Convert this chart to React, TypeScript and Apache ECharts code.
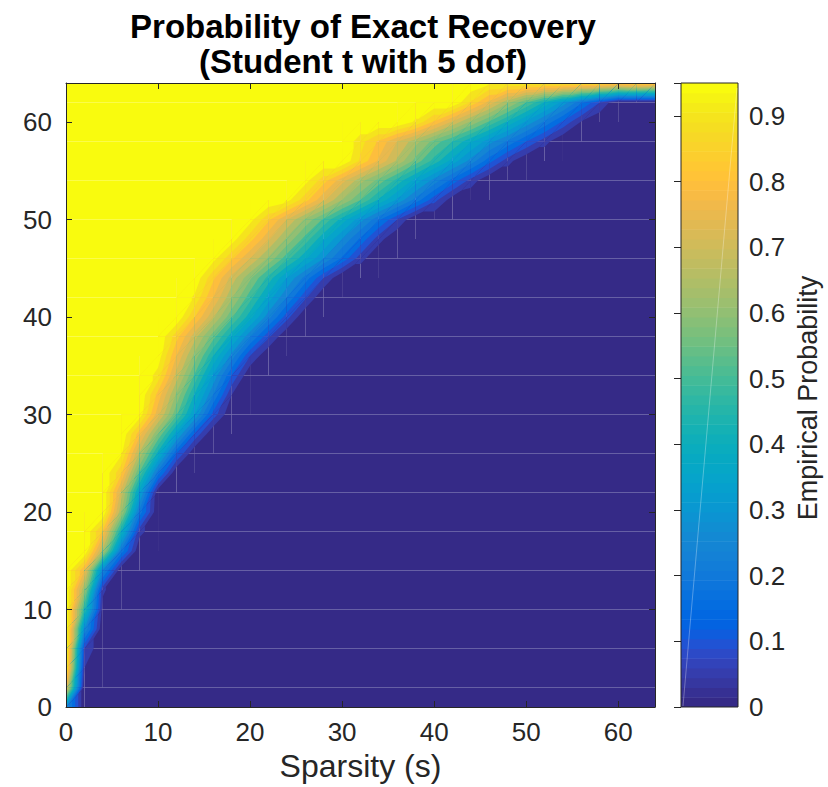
import React, { useEffect, useRef } from "react";
import * as echarts from "echarts";

// ---------------- data ----------------
const sparsityGrid = [0, 2, 4, 6, 8, 10, 12, 14, 16, 18, 20, 22, 24, 26, 28, 30, 32, 34, 36, 38, 40, 42, 44, 46, 48, 50, 52, 54, 56, 58, 60, 62, 64];
const measurementGrid = [0, 2, 4, 6, 8, 10, 12, 14, 16, 18, 20, 22, 24, 26, 28, 30, 32, 34, 36, 38, 40, 42, 44, 46, 48, 50, 52, 54, 56, 58, 60, 62, 64];

// For every row (measurement value): sparsity where the listed values begin.
// Left of it the empirical probability is 1, right of the listed values it is 0.
const transitionStart = [0, 0, 0, 2, 2, 2, 2, 2, 4, 4, 6, 6, 6, 6, 8, 8, 10, 10, 10, 12, 14, 14, 14, 16, 18, 20, 24, 26, 32, 32, 38, 44, 46];
const transitionValues: number[][] = [
  [0.3],
  [0.8],
  [0.97, 0.05],
  [0.1],
  [0.3],
  [0.5, 0.03],
  [0.65, 0.06],
  [0.8, 0.28],
  [0.68, 0.23],
  [0.84, 0.45, 0.07],
  [0.66, 0.23],
  [0.73, 0.37, 0.01],
  [0.86, 0.54, 0.22],
  [0.96, 0.69, 0.43, 0.16],
  [0.82, 0.6, 0.37, 0.14],
  [0.98, 0.77, 0.56, 0.35, 0.13],
  [0.83, 0.64, 0.44, 0.25, 0.05],
  [0.93, 0.73, 0.54, 0.34, 0.15],
  [0.98, 0.8, 0.63, 0.45, 0.28, 0.1],
  [0.87, 0.72, 0.57, 0.42, 0.26, 0.11],
  [0.85, 0.71, 0.56, 0.42, 0.27, 0.12],
  [0.94, 0.8, 0.66, 0.52, 0.38, 0.25, 0.11],
  [0.99, 0.86, 0.73, 0.61, 0.48, 0.35, 0.23, 0.1],
  [0.97, 0.86, 0.75, 0.64, 0.52, 0.41, 0.3, 0.19, 0.07],
  [0.98, 0.87, 0.76, 0.64, 0.53, 0.41, 0.3, 0.19, 0.07],
  [0.97, 0.86, 0.75, 0.64, 0.54, 0.43, 0.32, 0.21, 0.1],
  [0.97, 0.87, 0.76, 0.65, 0.55, 0.44, 0.34, 0.23, 0.12, 0.02],
  [0.97, 0.87, 0.77, 0.67, 0.58, 0.48, 0.38, 0.28, 0.18, 0.08],
  [0.89, 0.79, 0.69, 0.58, 0.48, 0.38, 0.28, 0.17, 0.07],
  [0.92, 0.84, 0.75, 0.67, 0.58, 0.5, 0.41, 0.32, 0.24, 0.15, 0.07],
  [0.94, 0.84, 0.74, 0.64, 0.54, 0.44, 0.34, 0.24, 0.14, 0.045],
  [0.89, 0.78, 0.66, 0.55, 0.44, 0.33, 0.21, 0.1],
  [0.96, 0.95, 0.94, 0.93, 0.93, 0.92, 0.91, 0.88, 0.91, 0.89],
];

const contourLevels = [0, 0.05, 0.1, 0.15, 0.2, 0.25, 0.3, 0.35, 0.4, 0.45, 0.5, 0.55, 0.6, 0.65, 0.7, 0.75, 0.8, 0.85, 0.9, 0.95];
const colorMax = 0.95;
const axisTicks = [0, 10, 20, 30, 40, 50, 60];
const colorbarTicks = [0, 0.1, 0.2, 0.3, 0.4, 0.5, 0.6, 0.7, 0.8, 0.9];

// MATLAB parula colormap (64 entries)
const PARULA: number[][] = [
  [0.2081, 0.1663, 0.5292], [0.2116, 0.1898, 0.5777], [0.2123, 0.2138, 0.627], [0.2081, 0.2386, 0.6771],
  [0.1959, 0.2645, 0.7279], [0.1707, 0.2919, 0.7792], [0.1253, 0.3242, 0.8303], [0.0591, 0.3598, 0.8683],
  [0.0117, 0.3875, 0.882], [0.006, 0.4086, 0.8828], [0.0165, 0.4266, 0.8786], [0.0329, 0.443, 0.872],
  [0.0498, 0.4586, 0.8641], [0.0629, 0.4737, 0.8554], [0.0723, 0.4887, 0.8467], [0.0779, 0.504, 0.8384],
  [0.0793, 0.52, 0.8312], [0.0749, 0.5375, 0.8263], [0.0641, 0.557, 0.824], [0.0488, 0.5772, 0.8228],
  [0.0343, 0.5966, 0.8199], [0.0265, 0.6137, 0.8135], [0.0239, 0.6287, 0.8038], [0.0231, 0.6418, 0.7913],
  [0.0228, 0.6535, 0.7768], [0.0267, 0.6642, 0.7607], [0.0384, 0.6743, 0.7436], [0.059, 0.6838, 0.7254],
  [0.0843, 0.6928, 0.7062], [0.1133, 0.7015, 0.6859], [0.1453, 0.7098, 0.6646], [0.1801, 0.7177, 0.6424],
  [0.2178, 0.725, 0.6193], [0.2586, 0.7317, 0.5954], [0.3022, 0.7376, 0.5712], [0.3482, 0.7424, 0.5473],
  [0.3953, 0.7459, 0.5244], [0.442, 0.7481, 0.5033], [0.4871, 0.7491, 0.484], [0.53, 0.7491, 0.4661],
  [0.5709, 0.7485, 0.4494], [0.6099, 0.7473, 0.4337], [0.6473, 0.7456, 0.4188], [0.6834, 0.7435, 0.4044],
  [0.7184, 0.7411, 0.3905], [0.7525, 0.7384, 0.3768], [0.7858, 0.7356, 0.3633], [0.8185, 0.7327, 0.3498],
  [0.8507, 0.7299, 0.336], [0.8824, 0.7274, 0.3217], [0.9139, 0.7258, 0.3063], [0.945, 0.7261, 0.2886],
  [0.9739, 0.7314, 0.2666], [0.9938, 0.7455, 0.2403], [0.999, 0.7653, 0.2164], [0.9955, 0.7861, 0.1967],
  [0.988, 0.8066, 0.1794], [0.9789, 0.8271, 0.1633], [0.9697, 0.8481, 0.1475], [0.9626, 0.8705, 0.1309],
  [0.9589, 0.8949, 0.1132], [0.9598, 0.9218, 0.0948], [0.9661, 0.9514, 0.0755], [0.9763, 0.9831, 0.0538],
];

const FONT = '"Liberation Sans", Arial, Helvetica, sans-serif';
const TEXT = "#262626";

function rgbOf(i: number): string {
  const c = PARULA[i];
  return `rgb(${Math.round(c[0] * 255)},${Math.round(c[1] * 255)},${Math.round(c[2] * 255)})`;
}
function colorForValue(v: number): string {
  const idx = Math.max(0, Math.min(63, Math.floor((v / colorMax) * 64 + 1e-9)));
  return rgbOf(idx);
}
function bandOf(v: number): number {
  let k = 0;
  for (let i = 0; i < contourLevels.length; i++) if (v >= contourLevels[i] - 1e-12) k = i;
  return k;
}
const bandColors = contourLevels.map((l) => colorForValue(l));

// probability grid [row m][col s]
const probability: number[][] = measurementGrid.map((_, j) => {
  const startIdx = sparsityGrid.indexOf(transitionStart[j]);
  const vals = transitionValues[j];
  return sparsityGrid.map((_, i) => {
    if (i < startIdx) return 1;
    const k = i - startIdx;
    return k < vals.length ? vals[k] : 0;
  });
});

type P3 = [number, number, number];
function clipAbove(poly: P3[], level: number): P3[] {
  const out: P3[] = [];
  for (let i = 0; i < poly.length; i++) {
    const a = poly[i];
    const b = poly[(i + 1) % poly.length];
    const ina = a[2] >= level;
    const inb = b[2] >= level;
    if (ina) out.push(a);
    if (ina !== inb) {
      const t = (level - a[2]) / (b[2] - a[2]);
      out.push([a[0] + t * (b[0] - a[0]), a[1] + t * (b[1] - a[1]), level]);
    }
  }
  return out;
}

type Poly = { pts: number[][]; color: string };
function buildPolygons(): Poly[] {
  const polys: Poly[] = [];
  const S = sparsityGrid;
  const M = measurementGrid;
  const Z = probability;
  for (let j = 0; j < M.length - 1; j++) {
    let run: { band: number; s0: number; s1: number } | null = null;
    const flush = () => {
      if (run) {
        polys.push({
          pts: [[run.s0, M[j]], [run.s1, M[j]], [run.s1, M[j + 1]], [run.s0, M[j + 1]]],
          color: bandColors[run.band],
        });
      }
      run = null;
    };
    for (let i = 0; i < S.length - 1; i++) {
      const a: P3 = [S[i], M[j], Z[j][i]];
      const b: P3 = [S[i + 1], M[j], Z[j][i + 1]];
      const c: P3 = [S[i + 1], M[j + 1], Z[j + 1][i + 1]];
      const d: P3 = [S[i], M[j + 1], Z[j + 1][i]];
      const bands = [a, b, c, d].map((p) => bandOf(p[2]));
      const cellLo = Math.min(...bands);
      if (bands.every((x) => x === bands[0])) {
        if (run && run.band === bands[0] && run.s1 === S[i]) run.s1 = S[i + 1];
        else {
          flush();
          run = { band: bands[0], s0: S[i], s1: S[i + 1] };
        }
        continue;
      }
      flush();
      // base: whole cell in its lowest band, then stacked super-level regions
      polys.push({
        pts: [[S[i], M[j]], [S[i + 1], M[j]], [S[i + 1], M[j + 1]], [S[i], M[j + 1]]],
        color: bandColors[cellLo],
      });
      for (const tri of [[a, b, c], [a, c, d]] as P3[][]) {
        const hi = Math.max(...tri.map((p) => bandOf(p[2])));
        for (let k = cellLo + 1; k <= hi; k++) {
          const poly = clipAbove(tri, contourLevels[k]);
          if (poly.length >= 3) polys.push({ pts: poly.map((p) => [p[0], p[1]]), color: bandColors[k] });
        }
      }
    }
    flush();
  }
  return polys;
}

export default function App() {
  const ref = useRef<HTMLDivElement>(null);
  useEffect(() => {
    if (!ref.current) return;
    const chart = echarts.init(ref.current, undefined, { renderer: "svg" });
    const polys = buildPolygons();

    const axisCommon: any = {
      type: "value",
      min: 0,
      max: 64,
      interval: 10,
      z: 10,
      axisLine: { show: true, onZero: false, lineStyle: { color: TEXT, width: 1 } },
      axisTick: { show: true, inside: true, length: 6, lineStyle: { color: TEXT, width: 1 } },
      splitLine: { show: false },
    };
    const tickFormatter = (v: number) => (axisTicks.indexOf(v) >= 0 ? String(v) : "");

    const option: any = {
      animation: false,
      backgroundColor: "#ffffff",
      grid: [
        { left: 66, right: 173, top: 83, bottom: 80, outerBoundsMode: "none", containLabel: false },
        {
          left: 681, right: 90, top: 83, bottom: 80, outerBoundsMode: "none", containLabel: false,
          show: true, borderColor: TEXT, borderWidth: 1, backgroundColor: "transparent", z: 5,
        },
      ],
      xAxis: [
        {
          ...axisCommon, gridIndex: 0, position: "bottom",
          axisLabel: { fontSize: 26, color: TEXT, margin: 12, fontFamily: FONT, formatter: tickFormatter },
          name: "Sparsity (s)", nameLocation: "middle", nameGap: 40,
          nameTextStyle: { fontSize: 32, color: TEXT, fontFamily: FONT },
        },
        { ...axisCommon, gridIndex: 0, position: "top", axisLabel: { show: false } },
        { type: "value", gridIndex: 1, min: 0, max: 1, show: false },
      ],
      yAxis: [
        {
          ...axisCommon, gridIndex: 0, position: "left",
          axisLabel: { fontSize: 26, color: TEXT, margin: 14, fontFamily: FONT, formatter: tickFormatter },
        },
        { ...axisCommon, gridIndex: 0, position: "right", axisLabel: { show: false } },
        {
          type: "value", gridIndex: 1, min: 0, max: colorMax, interval: 0.1, position: "right", z: 10,
          axisLine: { show: false },
          axisTick: { show: true, inside: true, length: 7, lineStyle: { color: TEXT, width: 1 } },
          splitLine: { show: false },
          axisLabel: {
            fontSize: 26, color: TEXT, margin: 11, fontFamily: FONT,
            formatter: (v: number) => {
              const hit = colorbarTicks.find((t) => Math.abs(t - v) < 1e-6);
              return hit === undefined ? "" : hit === 0 ? "0" : hit.toFixed(1);
            },
          },
        },
      ],
      series: [
        {
          type: "custom",
          xAxisIndex: 0,
          yAxisIndex: 0,
          clip: true,
          silent: true,
          data: [[0, 0]],
          renderItem: (_params: any, api: any) => ({
            type: "group",
            children: polys.map((p) => ({
              type: "polygon",
              shape: { points: p.pts.map((q) => api.coord(q)) },
              style: { fill: p.color, stroke: null },
              silent: true,
            })),
          }),
        },
        {
          type: "custom",
          xAxisIndex: 2,
          yAxisIndex: 2,
          z: 1,
          silent: true,
          data: PARULA.map((_, i) => [0.5, ((i + 0.5) / 64) * colorMax, i]),
          encode: { x: 0, y: 1 },
          renderItem: (_params: any, api: any) => {
            const i = api.value(2);
            const lo = api.coord([0, (i / 64) * colorMax]);
            const hi = api.coord([1, ((i + 1) / 64) * colorMax]);
            return {
              type: "rect",
              shape: { x: lo[0], y: hi[1], width: hi[0] - lo[0], height: lo[1] - hi[1] + (i > 0 ? 0.6 : 0) },
              style: { fill: rgbOf(i) },
            };
          },
        },
      ],
      graphic: [
        {
          type: "text", x: 363, y: 26, silent: true,
          style: { text: "Probability of Exact Recovery", fontSize: 33, fontWeight: "bold", fontFamily: FONT, fill: "#000", align: "center", verticalAlign: "middle" },
        },
        {
          type: "text", x: 363, y: 61, silent: true,
          style: { text: "(Student t with 5 dof)", fontSize: 33, fontWeight: "bold", fontFamily: FONT, fill: "#000", align: "center", verticalAlign: "middle" },
        },
        {
          type: "text", x: 808, y: 398, rotation: Math.PI / 2, silent: true,
          style: { text: "Empirical Probability", fontSize: 27, fontFamily: FONT, fill: TEXT, align: "center", verticalAlign: "middle" },
        },
        {
          type: "line", silent: true, z: 100,
          shape: { x1: 683, y1: 706, x2: 737, y2: 88 },
          style: { stroke: "rgba(255,255,255,0.3)", lineWidth: 1 },
        },
      ],
    };
    chart.setOption(option);
    return () => chart.dispose();
  }, []);
  return (
    <div
      ref={ref}
      style={{ position: "absolute", left: 0, top: 0, width: 828, height: 787, background: "#fff" }}
    />
  );
}
